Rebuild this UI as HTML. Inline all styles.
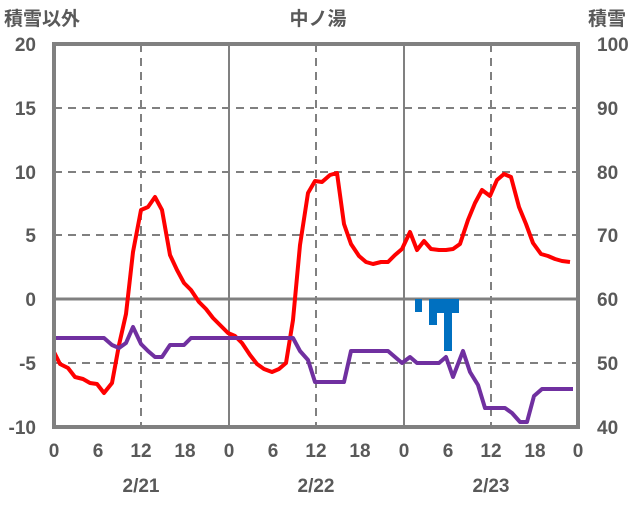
<!DOCTYPE html><html><head><style>body{margin:0;background:#fff}svg text{font-family:"Liberation Sans","Noto Sans CJK JP",sans-serif;fill:#595959;font-weight:bold}</style></head><body>
<svg width="636" height="501" xmlns="http://www.w3.org/2000/svg">
<g stroke="#808080" stroke-width="2" stroke-dasharray="8,6">
<line x1="54" y1="108" x2="578" y2="108"/><line x1="54" y1="172" x2="578" y2="172"/><line x1="54" y1="235" x2="578" y2="235"/><line x1="54" y1="363" x2="578" y2="363"/>
<line x1="141" y1="44" x2="141" y2="427"/><line x1="316" y1="44" x2="316" y2="427"/><line x1="491" y1="44" x2="491" y2="427"/>
</g>
<g stroke="#808080" stroke-width="2"><line x1="229" y1="44" x2="229" y2="427"/><line x1="404" y1="44" x2="404" y2="427"/></g>
<line x1="54" y1="299" x2="578" y2="299" stroke="#808080" stroke-width="3"/>
<g fill="#0070C0"><rect x="415" y="299" width="7" height="13"/><rect x="429" y="299" width="8" height="26"/><rect x="437" y="299" width="7" height="14"/><rect x="444" y="299" width="8" height="52"/><rect x="452" y="299" width="7" height="14"/></g>
<polyline fill="none" stroke="#FF0000" stroke-width="4" stroke-linejoin="round" points="54,352 60,364 68,368 75,377 83,379 90,383 97,384 104,393 112,383 119,345 126,314 133,252 141,210 148,207 155,197 162,210 170,255 177,270 184,283 191,290 199,302 206,309 213,318 220,325 228,333 235,336 242,343 250,355 257,364 264,369 272,372 279,369 286,363 293,320 300,245 308,193 315,181 322,182 330,175 337,173 344,224 351,244 359,256 366,262 373,264 381,262 388,262 395,255 402,249 410,232 417,250 424,241 431,249 439,250 446,250 453,249 460,244 468,220 475,203 482,190 490,196 497,180 504,174 511,177 519,207 526,224 533,243 541,254 548,256 555,259 562,261 570,262"/>
<polyline fill="none" stroke="#7030A0" stroke-width="4" stroke-linejoin="round" points="54,338 104,338 112,345 119,348 126,343 133,327 141,344 148,351 155,357 162,357 170,345 184,345 191,338 293,338 300,351 308,360 315,382 344,382 351,351 388,351 395,357 402,363 410,357 417,363 439,363 446,357 453,377 463,351 470,372 478,385 485,408 505,408 512,413 520,422 527,422 534,396 542,389 573,389"/>
<rect x="54" y="44" width="524" height="383" fill="none" stroke="#808080" stroke-width="4"/>
<g font-size="19" text-anchor="end"><text x="36" y="51">20</text><text x="36" y="115">15</text><text x="36" y="179">10</text><text x="36" y="242">5</text><text x="36" y="306">0</text><text x="36" y="370">-5</text><text x="36" y="434">-10</text></g>
<g font-size="19" text-anchor="start"><text x="597" y="51">100</text><text x="597" y="115">90</text><text x="597" y="179">80</text><text x="597" y="242">70</text><text x="597" y="306">60</text><text x="597" y="370">50</text><text x="597" y="434">40</text></g>
<g font-size="19" text-anchor="middle"><text x="54" y="457">0</text><text x="98" y="457">6</text><text x="141" y="457">12</text><text x="185" y="457">18</text><text x="229" y="457">0</text><text x="273" y="457">6</text><text x="316" y="457">12</text><text x="360" y="457">18</text><text x="404" y="457">0</text><text x="448" y="457">6</text><text x="491" y="457">12</text><text x="535" y="457">18</text><text x="578" y="457">0</text>
<text x="141" y="492">2/21</text><text x="316" y="492">2/22</text><text x="491" y="492">2/23</text><text x="318" y="25">中ノ湯</text></g>
<text x="4" y="25" font-size="19">積雪以外</text><text x="588" y="25" font-size="19">積雪</text>
</svg></body></html>
